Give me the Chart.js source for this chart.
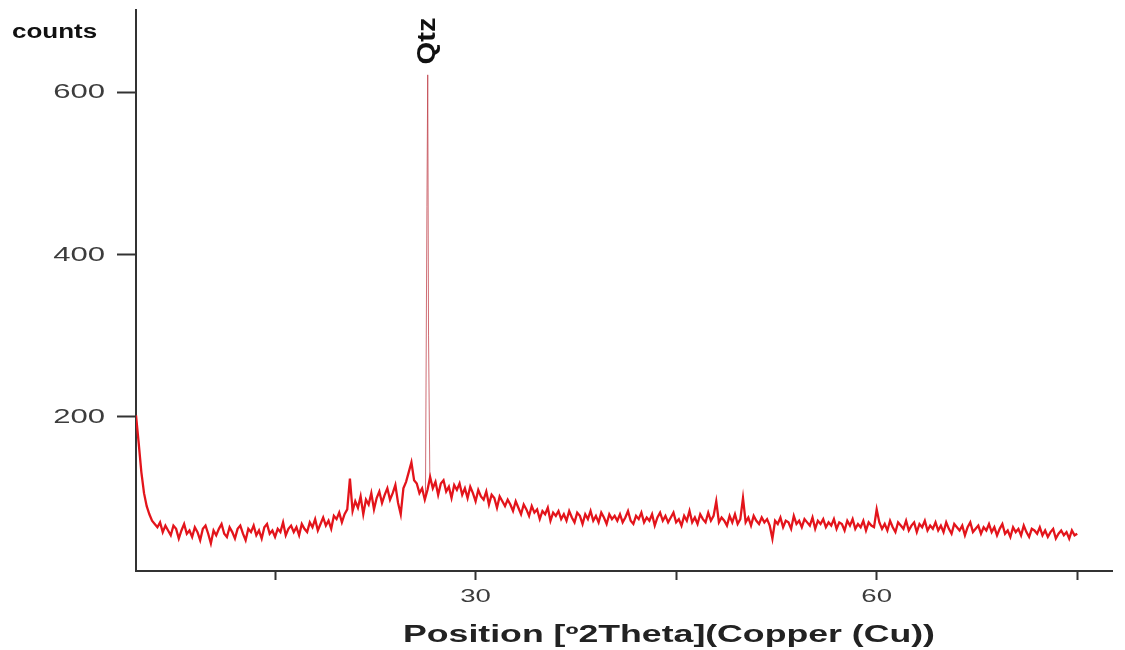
<!DOCTYPE html>
<html>
<head>
<meta charset="utf-8">
<script src="https://cdn.jsdelivr.net/npm/chart.js@4/dist/chart.umd.min.js"></script>
<style>
  body { margin: 0; background: #fff; }
  #wrap { width: 1125px; height: 650px; position: relative; }
</style>
</head>
<body>
<div id="wrap"><canvas id="xrdChart"></canvas></div>
<script>
// scan grid: 4.6 .. 75.0 deg 2theta, 0.2 deg per step
const startAngle = 4.6
const stepAngle = 0.2
const counts = [
  202,168,132,106,90,80,72,68,64,70,58,66,60,54,66,62,50,60,68,56,
  60,52,64,58,48,62,66,56,44,60,54,62,68,56,52,64,58,50,62,66,
  56,48,62,58,66,54,60,50,64,68,56,60,52,62,58,70,54,62,66,58,
  64,54,68,62,58,70,64,74,60,68,76,66,72,62,78,74,82,70,80,86,
  124,84,96,88,102,80,98,92,106,86,100,108,94,104,112,98,106,116,94,80,
  112,120,132,144,122,118,106,112,98,110,126,112,120,104,118,122,108,114,100,116,
  110,118,104,112,100,114,106,96,110,102,98,108,92,104,100,88,102,96,90,98,
  92,84,96,88,80,92,86,78,90,82,86,74,84,80,88,72,82,78,84,74,
  80,72,84,76,70,82,78,68,80,74,84,72,78,70,82,76,68,80,74,78,
  72,80,70,76,84,72,68,78,74,82,70,76,72,80,66,76,82,72,78,70,
  76,82,70,74,66,78,72,84,70,76,68,80,74,70,82,72,78,96,70,76,
  72,66,78,70,80,68,74,100,70,76,66,78,72,68,76,70,74,66,50,72,
  68,76,64,72,70,62,78,68,72,64,74,70,66,76,62,72,68,74,64,70,
  66,74,62,70,68,60,72,66,74,62,68,64,72,60,70,66,64,86,70,62,
  68,60,72,64,58,70,66,62,72,60,66,70,58,68,64,72,60,66,62,70,
  60,66,58,70,62,56,68,64,60,66,54,64,70,58,62,66,56,64,60,68,
  58,64,54,62,68,56,60,52,64,58,62,54,66,58,52,62,60,56,64,54,
  60,52,58,62,50,56,60,54,58,50,60,54,56
]

// the quartz reflection, sampled finer
const peakAngles = [26.25, 26.36, 26.42, 26.48, 26.58]
const peakCounts = [100, 460, 622, 300, 122]
const peakLabel = 'Qtz'

const yTicks = [200, 400, 600]
const xTicks = [15, 30, 45, 60, 75]
const xLabelled = [30, 60]

document.addEventListener('DOMContentLoaded', function() {
    const scan = counts.map((c, i) => ({ x: startAngle + i * stepAngle, y: c }))
    const peak = peakAngles.map((a, i) => ({ x: a, y: peakCounts[i] }))

    // the source picture is stretched sideways, so text gets a horizontal scale
    const wideText = (ctx, txt, x, y, sx, align) => {
        ctx.save()
        ctx.translate(x, y)
        ctx.scale(sx, 1)
        ctx.textAlign = align
        ctx.fillText(txt, 0, 0)
        ctx.restore()
    }

    const textPlugin = {
        id: 'xrdText',
        afterDraw(chart) {
            const ctx = chart.ctx
            const xs = chart.scales.x
            const ys = chart.scales.y
            ctx.save()
            ctx.textBaseline = 'middle'

            ctx.fillStyle = '#3c3c3c'
            ctx.font = '21px "Liberation Sans", Arial, sans-serif'
            yTicks.forEach(v => wideText(ctx, String(v), 105, ys.getPixelForValue(v), 1.48, 'right'))
            ctx.font = '19px "Liberation Sans", Arial, sans-serif'
            xLabelled.forEach(v => wideText(ctx, String(v), xs.getPixelForValue(v), 597, 1.45, 'center'))

            ctx.fillStyle = '#111'
            ctx.font = 'bold 20px "Liberation Sans", Arial, sans-serif'
            wideText(ctx, 'counts', 12, 32, 1.3, 'left')

            ctx.fillStyle = '#222'
            ctx.font = 'bold 23px "Liberation Sans", Arial, sans-serif'
            wideText(ctx, 'Position [\u00ba2Theta](Copper (Cu))', 669, 636, 1.55, 'center')

            // peak label, rotated
            const px = xs.getPixelForValue(peakAngles[2])
            ctx.translate(px, 41)
            ctx.rotate(-Math.PI / 2)
            ctx.font = 'bold 26px "Liberation Sans Narrow", "Liberation Sans", sans-serif'
            ctx.fillStyle = '#111'
            wideText(ctx, peakLabel, 0, 0, 1.12, 'center')
            ctx.restore()
        }
    }

    const config = {
        type: 'line',
        data: {
            datasets: [
                {
                    label: 'scan',
                    data: scan,
                    borderColor: '#e3141b',
                    borderWidth: 2.3,
                    pointRadius: 0,
                    tension: 0
                },
                {
                    label: 'peak',
                    data: peak,
                    borderColor: 'rgba(190, 60, 70, 0.75)',
                    borderWidth: 1,
                    pointRadius: 0,
                    tension: 0
                }
            ]
        },
        options: {
            responsive: true,
            maintainAspectRatio: false,
            animation: false,
            layout: { padding: { top: 10, right: 13, left: 0, bottom: 0 } },
            plugins: {
                legend: { display: false },
                tooltip: { enabled: false }
            },
            scales: {
                x: {
                    type: 'linear',
                    min: 4.6,
                    max: 77.6,
                    afterBuildTicks: s => { s.ticks = xTicks.map(v => ({ value: v })) },
                    afterFit: s => { s.height = 79; s.paddingLeft = 0; s.paddingRight = 0 },
                    border: { display: true, color: '#333', width: 2 },
                    grid: { drawOnChartArea: false, drawTicks: true, tickLength: 9, tickColor: '#333', tickWidth: 2 },
                    ticks: { display: false, autoSkip: false }
                },
                y: {
                    type: 'linear',
                    min: 10,
                    max: 702,
                    afterBuildTicks: s => { s.ticks = yTicks.map(v => ({ value: v })) },
                    afterFit: s => { s.width = 136; s.paddingTop = 0; s.paddingBottom = 0 },
                    border: { display: true, color: '#333', width: 2 },
                    grid: { drawOnChartArea: false, drawTicks: true, tickLength: 19, tickColor: '#333', tickWidth: 2 },
                    ticks: { display: false }
                }
            }
        },
        plugins: [textPlugin]
    }

    new Chart(document.getElementById('xrdChart').getContext('2d'), config)
})
</script>
</body>
</html>
